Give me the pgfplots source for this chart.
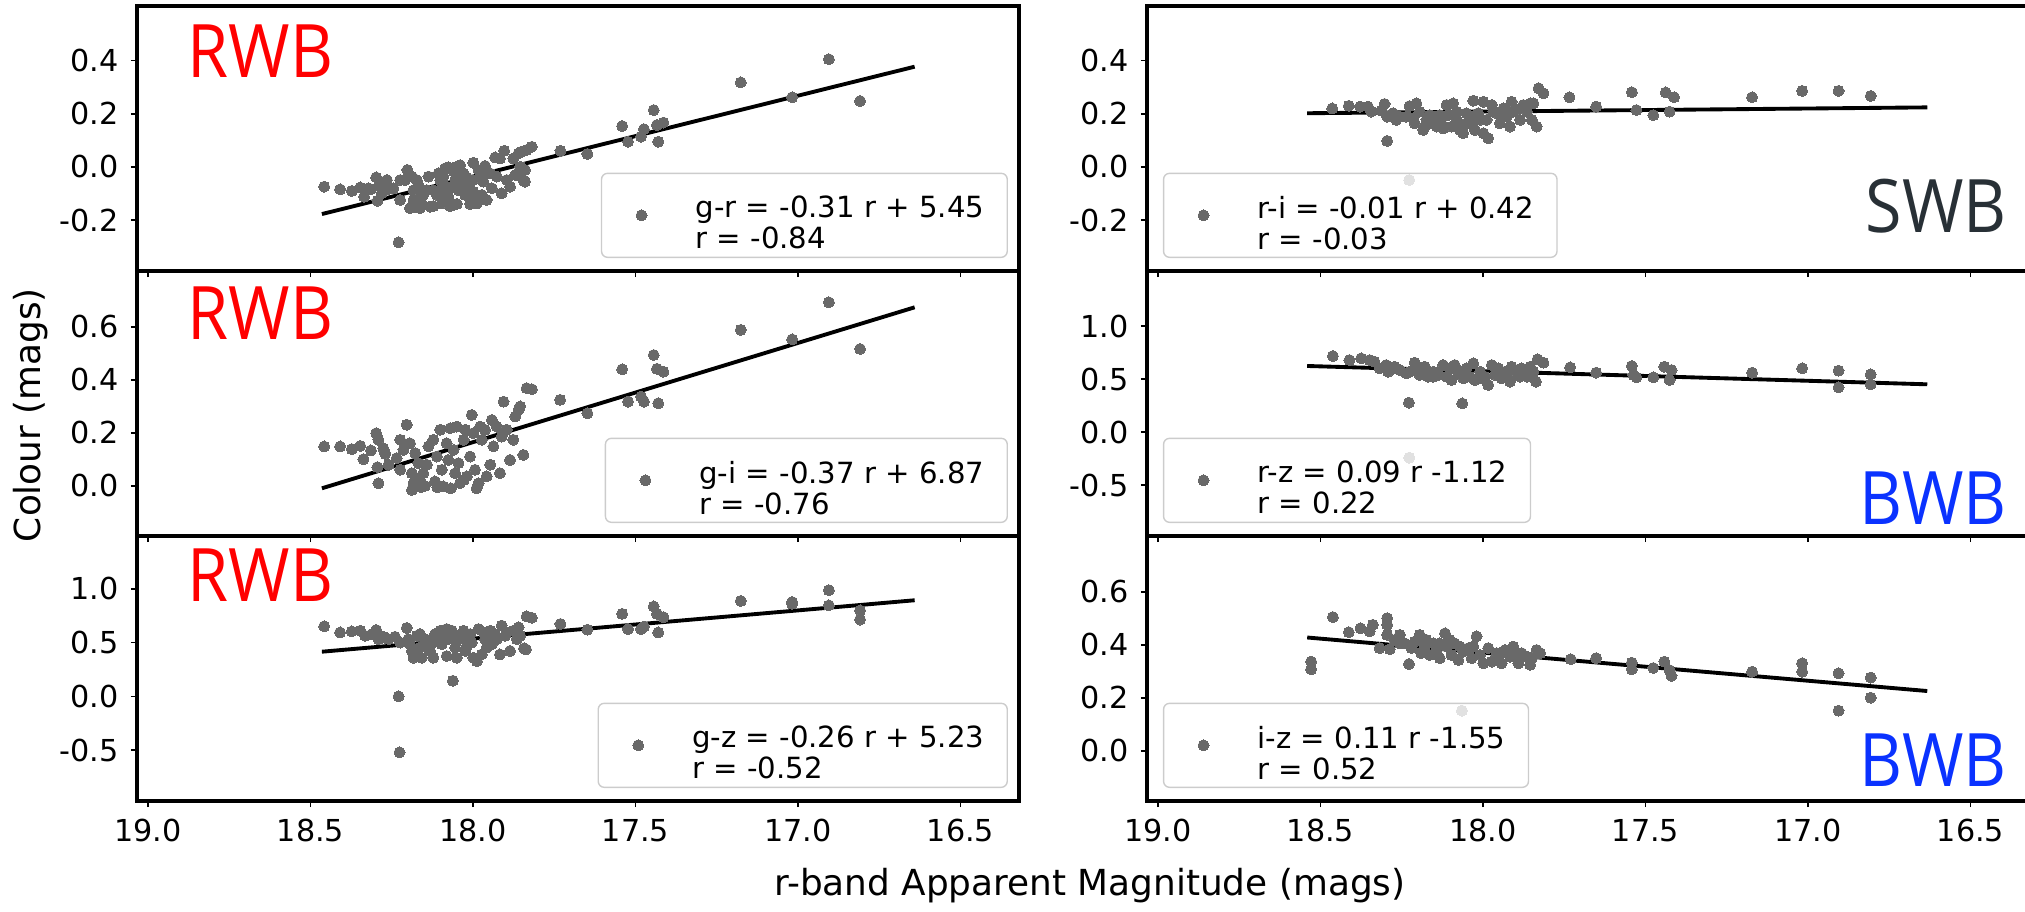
\documentclass[border=0pt]{standalone}
\usepackage{fontspec}
\setmainfont{DejaVu Sans}
\newfontfamily\labfont[FakeStretch=0.9]{Open Sans}
\usepackage{pgfplots}
\usepackage{pgfplotstable}
\pgfplotsset{compat=1.18}
\definecolor{pt}{RGB}{105,105,105}
\definecolor{rwb}{RGB}{255,0,0}
\definecolor{bwb}{RGB}{10,50,255}
\definecolor{swb}{RGB}{40,48,54}

\pgfplotstableread{
x y
18.458 -0.074
18.409 -0.084
18.373 -0.090
18.347 -0.077
18.335 -0.112
18.314 -0.084
18.298 -0.039
18.288 -0.064
18.294 -0.127
18.270 -0.059
18.263 -0.084
18.245 -0.080
18.224 -0.049
18.224 -0.124
18.202 -0.011
18.209 -0.049
18.188 -0.036
18.183 -0.087
18.178 -0.149
18.183 -0.124
18.168 -0.068
18.158 -0.137
18.153 -0.105
18.137 -0.036
18.132 -0.149
18.122 -0.087
18.111 -0.105
18.106 -0.024
18.101 -0.049
18.096 -0.137
18.086 -0.005
18.081 -0.074
18.076 -0.112
18.065 -0.137
18.060 -0.017
18.055 -0.049
18.050 0.001
18.045 -0.087
18.040 -0.061
18.029 -0.024
18.024 -0.105
18.014 -0.074
18.009 -0.124
17.999 0.016
17.999 -0.049
17.988 -0.137
17.983 -0.011
17.973 -0.105
17.968 -0.055
17.963 0.004
17.958 -0.124
17.947 -0.024
17.942 -0.080
17.932 0.036
17.927 -0.036
17.917 0.032
17.912 -0.099
17.904 0.061
17.896 -0.049
17.886 -0.074
17.876 0.032
17.870 -0.030
17.860 0.051
17.855 0.001
17.845 -0.049
17.840 -0.055
17.850 0.058
17.835 0.064
17.819 0.076
17.840 -0.011
18.229 -0.283
18.194 -0.155
18.163 -0.155
18.122 -0.147
18.070 -0.147
18.050 -0.139
18.009 -0.139
17.978 -0.124
18.091 -0.036
18.076 -0.001
18.040 0.007
18.173 -0.049
18.142 -0.087
18.101 -0.087
18.060 -0.074
18.019 -0.039
17.978 -0.036
17.999 -0.093
18.265 -0.049
18.322 -0.080
18.281 -0.099
17.731 0.061
17.648 0.049
17.541 0.154
17.523 0.095
17.483 0.114
17.474 0.142
17.444 0.214
17.434 0.158
17.414 0.167
17.430 0.095
17.176 0.318
17.018 0.262
16.905 0.405
16.809 0.248
}\grdata

\pgfplotstableread{
x y
18.464 0.220
18.413 0.230
18.378 0.227
18.354 0.227
18.344 0.208
18.313 0.212
18.303 0.237
18.295 0.189
18.295 0.098
18.277 0.202
18.267 0.177
18.236 0.189
18.226 0.229
18.205 0.239
18.210 0.164
18.195 0.208
18.184 0.139
18.174 0.177
18.153 0.189
18.143 0.152
18.128 0.164
18.112 0.233
18.107 0.195
18.097 0.152
18.092 0.239
18.081 0.177
18.071 0.139
18.061 0.127
18.051 0.202
18.040 0.164
18.030 0.249
18.025 0.139
18.015 0.202
17.999 0.245
17.999 0.127
17.989 0.177
17.984 0.108
17.973 0.233
17.958 0.202
17.948 0.164
17.937 0.220
17.927 0.189
17.917 0.152
17.912 0.245
17.896 0.214
17.886 0.177
17.876 0.233
17.855 0.239
17.850 0.177
17.845 0.239
17.835 0.152
17.829 0.296
17.814 0.277
17.734 0.262
18.256 0.189
18.215 0.183
18.164 0.195
18.133 0.195
18.081 0.208
18.051 0.164
18.009 0.177
17.968 0.208
17.948 0.195
17.907 0.208
17.865 0.208
18.174 0.158
18.123 0.145
18.030 0.189
17.652 0.227
17.542 0.281
17.528 0.214
17.476 0.195
17.438 0.280
17.426 0.208
17.412 0.262
17.172 0.262
17.018 0.286
16.906 0.286
16.807 0.267
18.227 -0.049
}\ridata

\pgfplotstableread{
x y
18.458 0.149
18.409 0.149
18.373 0.139
18.347 0.151
18.337 0.101
18.314 0.134
18.298 0.199
18.291 0.174
18.291 0.010
18.276 0.142
18.270 0.121
18.294 0.071
18.260 0.080
18.235 0.105
18.224 0.174
18.224 0.061
18.204 0.231
18.214 0.136
18.194 0.161
18.188 0.048
18.183 0.010
18.178 0.124
18.168 0.086
18.163 0.023
18.153 0.048
18.142 0.080
18.137 0.149
18.122 0.174
18.117 0.017
18.111 0.111
18.101 0.212
18.096 0.061
18.091 -0.002
18.081 0.161
18.076 0.098
18.070 0.218
18.060 0.136
18.055 0.048
18.050 0.224
18.045 0.086
18.040 0.010
18.029 0.174
18.024 0.212
18.019 0.036
18.009 0.111
18.004 0.268
17.999 0.199
17.994 0.061
17.983 0.010
17.978 0.224
17.973 0.174
17.963 0.212
17.958 0.036
17.947 0.080
17.942 0.249
17.937 0.149
17.927 0.224
17.917 0.048
17.912 0.186
17.906 0.318
17.896 0.212
17.886 0.098
17.876 0.174
17.870 0.262
17.860 0.287
17.855 0.300
17.845 0.117
17.835 0.369
17.819 0.365
17.732 0.325
18.188 -0.015
18.068 -0.009
17.989 -0.009
18.148 0.000
18.028 0.023
18.110 -0.005
18.160 -0.005
17.648 0.274
17.541 0.440
17.523 0.318
17.483 0.337
17.474 0.318
17.444 0.494
17.434 0.442
17.414 0.431
17.430 0.312
17.176 0.589
17.018 0.553
16.905 0.693
16.809 0.517
}\gidata

\pgfplotstableread{
x y
18.462 0.717
18.411 0.679
18.375 0.695
18.349 0.679
18.334 0.664
18.318 0.601
18.298 0.632
18.292 0.569
18.272 0.616
18.256 0.585
18.236 0.553
18.228 0.277
18.210 0.654
18.205 0.601
18.195 0.538
18.179 0.616
18.169 0.522
18.153 0.569
18.138 0.538
18.123 0.632
18.112 0.522
18.102 0.601
18.097 0.491
18.087 0.632
18.076 0.553
18.064 0.270
18.061 0.506
18.051 0.601
18.040 0.522
18.030 0.648
18.025 0.491
18.009 0.569
17.994 0.522
17.984 0.444
17.973 0.632
17.963 0.538
17.953 0.601
17.943 0.506
17.932 0.569
17.917 0.475
17.912 0.616
17.896 0.553
17.881 0.601
17.865 0.522
17.855 0.616
17.845 0.569
17.837 0.475
17.832 0.686
17.814 0.654
17.732 0.610
18.287 0.585
18.225 0.569
18.153 0.522
18.081 0.585
18.009 0.506
17.948 0.553
17.886 0.522
17.927 0.522
18.174 0.569
18.051 0.538
17.652 0.560
17.542 0.623
17.537 0.538
17.528 0.516
17.476 0.516
17.442 0.616
17.420 0.585
17.426 0.491
17.172 0.560
17.018 0.601
16.906 0.579
16.906 0.421
16.807 0.544
16.807 0.450
18.227 -0.242
}\rzdata

\pgfplotstableread{
x y
18.458 0.651
18.409 0.594
18.373 0.604
18.347 0.610
18.332 0.563
18.311 0.579
18.298 0.617
18.291 0.532
18.276 0.554
18.260 0.532
18.240 0.554
18.229 0.000
18.224 0.500
18.204 0.636
18.199 0.532
18.188 0.422
18.183 0.359
18.173 0.563
18.163 0.453
18.158 0.359
18.147 0.532
18.132 0.422
18.122 0.359
18.117 0.579
18.101 0.610
18.096 0.485
18.081 0.375
18.076 0.532
18.065 0.610
18.062 0.145
18.055 0.453
18.050 0.359
18.040 0.563
18.029 0.610
18.024 0.422
18.014 0.532
18.004 0.500
17.999 0.359
17.988 0.327
17.983 0.626
17.973 0.390
17.963 0.532
17.958 0.453
17.947 0.610
17.942 0.485
17.932 0.579
17.917 0.390
17.912 0.658
17.901 0.563
17.886 0.422
17.876 0.610
17.860 0.642
17.855 0.563
17.843 0.447
17.837 0.437
17.835 0.743
17.819 0.730
17.731 0.673
18.194 0.485
18.142 0.453
18.091 0.548
18.050 0.516
18.009 0.579
17.968 0.595
17.927 0.532
17.896 0.595
17.865 0.532
18.163 0.579
18.122 0.500
18.081 0.626
18.019 0.469
17.648 0.620
17.541 0.767
17.523 0.626
17.483 0.626
17.474 0.648
17.444 0.836
17.434 0.767
17.414 0.736
17.430 0.594
17.176 0.887
17.018 0.877
17.018 0.860
16.905 0.987
16.905 0.846
16.809 0.799
16.809 0.714
18.226 -0.520
}\gzdata

\pgfplotstableread{
x y
18.529 0.337
18.529 0.308
18.462 0.505
18.413 0.448
18.377 0.463
18.349 0.451
18.339 0.476
18.318 0.388
18.295 0.501
18.295 0.476
18.295 0.438
18.287 0.384
18.272 0.419
18.256 0.438
18.241 0.406
18.228 0.328
18.220 0.388
18.210 0.413
18.195 0.438
18.190 0.369
18.179 0.394
18.164 0.362
18.153 0.406
18.143 0.381
18.133 0.350
18.117 0.444
18.112 0.394
18.097 0.362
18.087 0.406
18.076 0.343
18.061 0.375
18.045 0.388
18.035 0.350
18.020 0.432
18.009 0.362
17.999 0.331
17.984 0.388
17.973 0.337
17.958 0.369
17.943 0.331
17.932 0.381
17.917 0.356
17.907 0.394
17.891 0.331
17.881 0.369
17.855 0.325
17.850 0.350
17.835 0.381
17.824 0.369
17.730 0.346
18.174 0.419
18.102 0.419
18.030 0.394
17.948 0.369
17.896 0.369
18.071 0.394
18.133 0.406
18.256 0.406
17.865 0.356
17.652 0.350
17.542 0.333
17.542 0.308
17.476 0.313
17.442 0.337
17.426 0.305
17.420 0.283
17.172 0.299
17.018 0.331
17.018 0.299
16.906 0.293
16.906 0.152
16.807 0.277
16.807 0.201
18.065 0.152
18.227 -0.190
}\izdata

\pgfplotsset{
  panel/.style={
    scale only axis, width=88.2mm, height=26.5mm, anchor=south west,
    x dir=reverse, xmin=16.32, xmax=19.034,
    xtick={16.5,17,17.5,18,18.5,19},
    tick align=outside, xtick pos=left, ytick pos=left,
    major tick length=0.6mm,
    axis line style={line width=0.9pt},
    tick style={black, line width=0.45pt},
    tick label style={font=\fontsize{8.6}{9}\selectfont},
    /pgf/number format/assume math mode=true,
    xticklabel style={/pgf/number format/.cd, fixed, fixed zerofill, precision=1},
    yticklabel style={/pgf/number format/.cd, fixed, fixed zerofill, precision=1},
    legend image code/.code={
      \path[draw=none, fill=none] (-4mm,-4.2mm) rectangle (5.4mm,4.2mm);
      \begin{scope}[fill opacity=1, draw opacity=1]
      \draw plot coordinates {(0mm,0mm)};
      \end{scope}
    },
    legend style={
      draw=black!20, rounded corners=0.6mm, fill=white, fill opacity=0.8,
      draw opacity=1, text opacity=1,
      inner xsep=0pt, inner ysep=0pt,
      nodes={inner sep=0pt, text depth=0pt, font=\fontsize{8.3}{8.8}\selectfont},
      cells={anchor=west},
    },
  },
  scat/.style={only marks, mark=*, mark size=0.55mm, color=pt, mark options={line width=0pt}},
  fitline/.style={black, line width=1.1pt, forget plot},
}
\tikzset{lab/.style={inner sep=0pt, font=\labfont\fontsize{21}{21}\selectfont}}
\newcommand{\leg}[2]{\begin{tabular}{@{}l@{\hspace{2.3mm}}}#1\\#2\end{tabular}}

\begin{document}
\begin{tikzpicture}
% ---------- row 1 ----------
\begin{axis}[panel, at={(13.7mm,64.0mm)}, ymin=-0.391, ymax=0.605,
  ytick={-0.2,0,0.2,0.4}, xticklabels={},
  legend style={at={(0.9875,0.049)}, anchor=south east}]
\addplot[scat] table {\grdata};
\addlegendentry{\leg{g-r = -0.31 r + 5.45}{r = -0.84}}
\addplot[fitline] coordinates {(18.465,-0.177) (16.641,0.377)};
\node[lab, text=rwb, anchor=base west] at (axis cs:18.88,0.335) {RWB};
\end{axis}
\begin{axis}[panel, at={(114.7mm,64.0mm)}, ymin=-0.391, ymax=0.605,
  ytick={-0.2,0,0.2,0.4}, xticklabels={},
  legend style={at={(0.018,0.049)}, anchor=south west}]
\addplot[scat] table {\ridata};
\addlegendentry{\leg{r-i = -0.01 r + 0.42}{r = -0.03}}
\addplot[fitline] coordinates {(18.541,0.202) (16.633,0.224)};
\node[lab, text=swb, anchor=base east] at (axis cs:16.386,-0.248) {SWB};
\end{axis}
% ---------- row 2 ----------
\begin{axis}[panel, at={(13.7mm,37.5mm)}, ymin=-0.189, ymax=0.811,
  ytick={0,0.2,0.4,0.6}, xticklabels={},
  legend style={at={(0.9875,0.049)}, anchor=south east}]
\addplot[scat] table {\gidata};
\addlegendentry{\leg{g-i = -0.37 r + 6.87}{r = -0.76}}
\addplot[fitline] coordinates {(18.465,-0.009) (16.641,0.674)};
\node[lab, text=rwb, anchor=base west] at (axis cs:18.88,0.551) {RWB};
\end{axis}
\begin{axis}[panel, at={(114.7mm,37.5mm)}, ymin=-0.981, ymax=1.519,
  ytick={-0.5,0,0.5,1.0}, xticklabels={},
  legend style={at={(0.018,0.049)}, anchor=south west}]
\addplot[scat] table {\rzdata};
\addlegendentry{\leg{r-z = 0.09 r -1.12}{r = 0.22}}
\addplot[fitline] coordinates {(18.541,0.623) (16.633,0.450)};
\node[lab, text=bwb, anchor=base east] at (axis cs:16.386,-0.877) {BWB};
\end{axis}
% ---------- row 3 ----------
\begin{axis}[panel, at={(13.7mm,11.0mm)}, ymin=-0.972, ymax=1.49,
  ytick={-0.5,0,0.5,1.0},
  legend style={at={(0.9875,0.049)}, anchor=south east}]
\addplot[scat] table {\gzdata};
\addlegendentry{\leg{g-z = -0.26 r + 5.23}{r = -0.52}}
\addplot[fitline] coordinates {(18.465,0.415) (16.641,0.893)};
\node[lab, text=rwb, anchor=base west] at (axis cs:18.88,0.877) {RWB};
\end{axis}
\begin{axis}[panel, at={(114.7mm,11.0mm)}, ymin=-0.189, ymax=0.811,
  ytick={0,0.2,0.4,0.6},
  legend style={at={(0.018,0.049)}, anchor=south west}]
\addplot[scat] table {\izdata};
\addlegendentry{\leg{i-z = 0.11 r -1.55}{r = 0.52}}
\addplot[fitline] coordinates {(18.541,0.428) (16.633,0.226)};
\node[lab, text=bwb, anchor=base east] at (axis cs:16.386,-0.136) {BWB};
\end{axis}
% ---------- labels ----------
\node[rotate=90, font=\fontsize{10.2}{12}\selectfont] at (3.1mm,49.6mm) {Colour (mags)};
\node[anchor=base, font=\fontsize{10.2}{12}\selectfont] at (109.0mm,1.6mm) {r-band Apparent Magnitude (mags)};
\pgfresetboundingbox
\path[use as bounding box] (0,0) rectangle (202.5mm,91.1mm);
\end{tikzpicture}
\end{document}
